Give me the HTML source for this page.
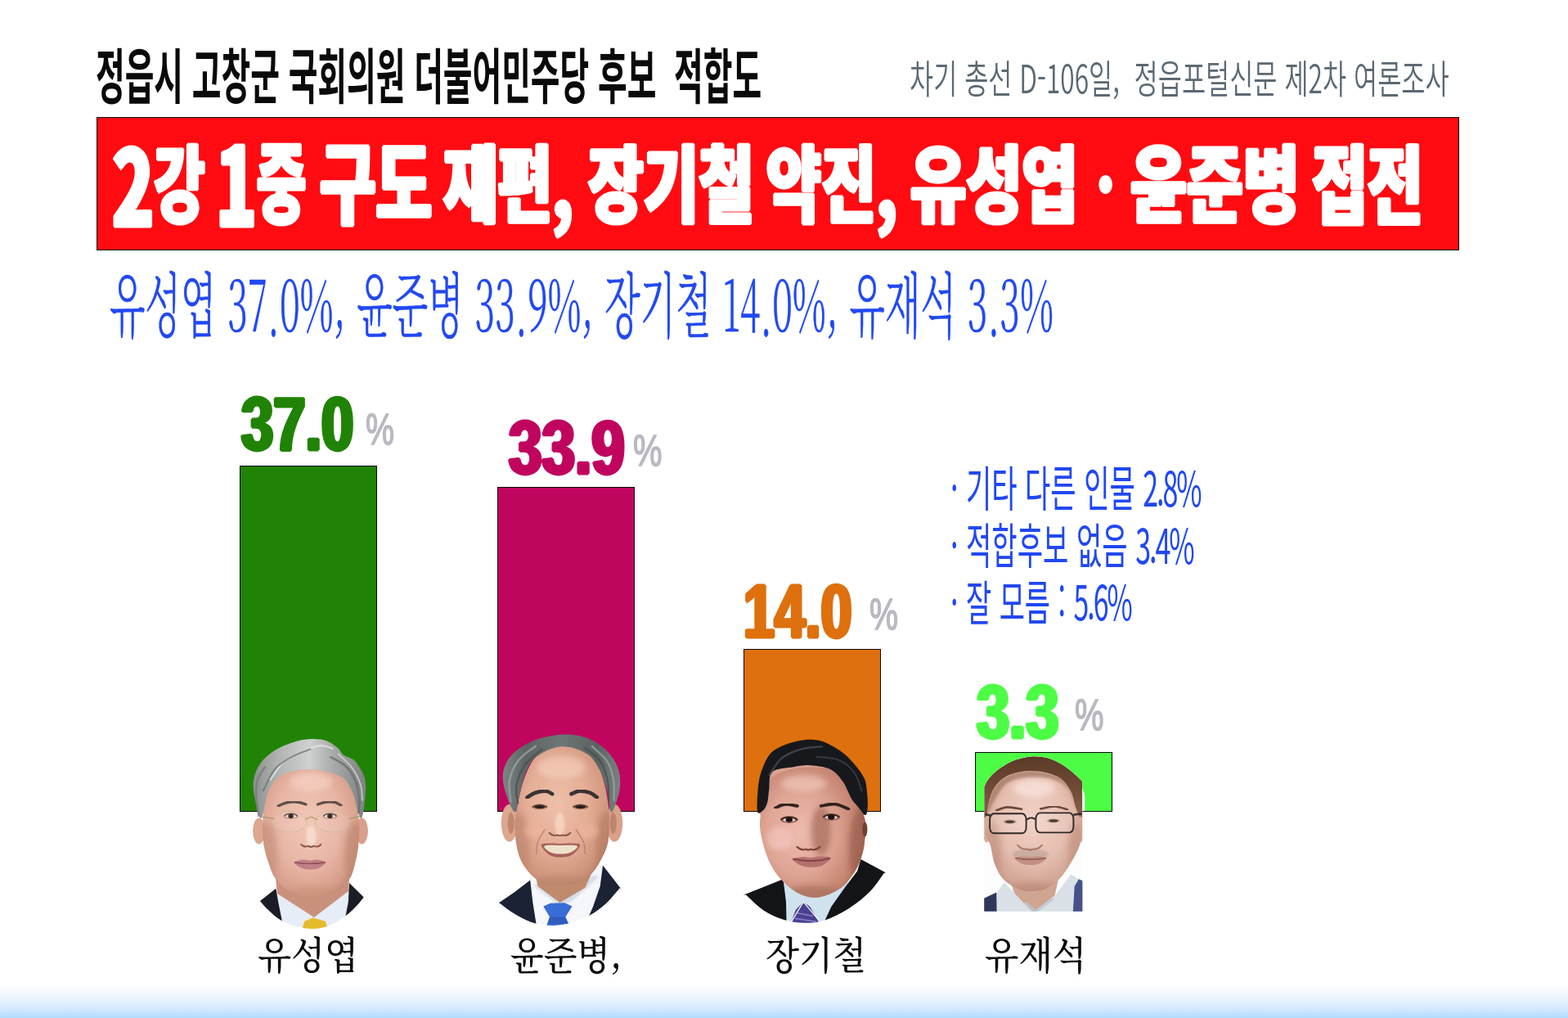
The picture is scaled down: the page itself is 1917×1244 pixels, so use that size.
<!DOCTYPE html>
<html lang="ko">
<head>
<meta charset="utf-8">
<title>정읍시 고창군 국회의원 더불어민주당 후보 적합도</title>
<style>
html,body{margin:0;padding:0;background:#fff}
body{width:1917px;height:1244px;position:relative;overflow:hidden}
#page{position:absolute;left:0;top:0;width:1917px;height:1244px;overflow:hidden;background:#fff}
#foot{position:absolute;left:0;top:1199px;width:1917px;height:45px;background:linear-gradient(to bottom,#ffffff 0%,#fbfdff 14%,#f2f8fe 34%,#e0effe 60%,#cae5fd 82%,#b2dcfd 100%)}
#band{position:absolute;left:118px;top:143px;width:1666px;height:163px;box-sizing:border-box;background:#ff0b11;border:1px solid #0a1414}
.bar{position:absolute;box-sizing:border-box;border:1px solid #0a0a0a}
.t{position:absolute;white-space:pre;line-height:1;transform-origin:0 0;margin:0}
.ph{position:absolute;overflow:visible}
.d{font-size:1.25em;line-height:0;position:relative;top:0.1em}
.pd{position:relative;top:0.13em}
.q{letter-spacing:-0.06em}
#title{left:117.45px;top:52.15px;font-size:73.16px;transform:scaleX(0.5299);color:#0a0a0a;font-family:"Noto Sans CJK KR","NanumGothic","Liberation Sans",sans-serif;font-weight:700;}
#sub{left:1112.42px;top:69.74px;font-size:47.58px;transform:scaleX(0.6661);color:#5b6973;font-family:"Noto Sans CJK KR","NanumGothic","Liberation Sans",sans-serif;font-weight:350;}
#w1{left:137.03px;top:168.46px;font-size:103.40px;transform:scaleX(0.6522);color:#fff;font-family:"Noto Sans CJK KR","NanumGothic","Liberation Sans",sans-serif;font-weight:900;-webkit-text-stroke:0.03em currentColor;text-shadow:0.01em 0 0 currentColor,-0.01em 0 0 currentColor,0.02em 0 0 currentColor,-0.02em 0 0 currentColor,0.03em 0 0 currentColor,-0.03em 0 0 currentColor;}
#w2{left:264.01px;top:163.84px;font-size:107.85px;transform:scaleX(0.6076);color:#fff;font-family:"Noto Sans CJK KR","NanumGothic","Liberation Sans",sans-serif;font-weight:900;-webkit-text-stroke:0.03em currentColor;text-shadow:0.01em 0 0 currentColor,-0.01em 0 0 currentColor,0.02em 0 0 currentColor,-0.02em 0 0 currentColor,0.03em 0 0 currentColor,-0.03em 0 0 currentColor;}
#w3{left:390.75px;top:162.62px;font-size:109.02px;transform:scaleX(0.6834);color:#fff;font-family:"Noto Sans CJK KR","NanumGothic","Liberation Sans",sans-serif;font-weight:900;-webkit-text-stroke:0.03em currentColor;text-shadow:0.01em 0 0 currentColor,-0.01em 0 0 currentColor,0.02em 0 0 currentColor,-0.02em 0 0 currentColor,0.03em 0 0 currentColor,-0.03em 0 0 currentColor;}
#w4{left:542.42px;top:168.46px;font-size:103.40px;transform:scaleX(0.6992);color:#fff;font-family:"Noto Sans CJK KR","NanumGothic","Liberation Sans",sans-serif;font-weight:900;-webkit-text-stroke:0.03em currentColor;text-shadow:0.01em 0 0 currentColor,-0.01em 0 0 currentColor,0.02em 0 0 currentColor,-0.02em 0 0 currentColor,0.03em 0 0 currentColor,-0.03em 0 0 currentColor;}
#w5{left:718.74px;top:168.46px;font-size:103.40px;transform:scaleX(0.7113);color:#fff;font-family:"Noto Sans CJK KR","NanumGothic","Liberation Sans",sans-serif;font-weight:900;-webkit-text-stroke:0.03em currentColor;text-shadow:0.01em 0 0 currentColor,-0.01em 0 0 currentColor,0.02em 0 0 currentColor,-0.02em 0 0 currentColor,0.03em 0 0 currentColor,-0.03em 0 0 currentColor;}
#w6{left:936.77px;top:168.46px;font-size:103.40px;transform:scaleX(0.7052);color:#fff;font-family:"Noto Sans CJK KR","NanumGothic","Liberation Sans",sans-serif;font-weight:900;-webkit-text-stroke:0.03em currentColor;text-shadow:0.01em 0 0 currentColor,-0.01em 0 0 currentColor,0.02em 0 0 currentColor,-0.02em 0 0 currentColor,0.03em 0 0 currentColor,-0.03em 0 0 currentColor;}
#w7{left:1112.66px;top:168.46px;font-size:103.40px;transform:scaleX(0.7180);color:#fff;font-family:"Noto Sans CJK KR","NanumGothic","Liberation Sans",sans-serif;font-weight:900;-webkit-text-stroke:0.03em currentColor;text-shadow:0.01em 0 0 currentColor,-0.01em 0 0 currentColor,0.02em 0 0 currentColor,-0.02em 0 0 currentColor,0.03em 0 0 currentColor,-0.03em 0 0 currentColor;}
#w8{left:1337.80px;top:168.00px;font-size:104.55px;transform:scaleX(0.7379);color:#fff;font-family:"Noto Sans CJK KR","NanumGothic","Liberation Sans",sans-serif;font-weight:900;}
#w9{left:1382.35px;top:168.46px;font-size:103.40px;transform:scaleX(0.7241);color:#fff;font-family:"Noto Sans CJK KR","NanumGothic","Liberation Sans",sans-serif;font-weight:900;-webkit-text-stroke:0.03em currentColor;text-shadow:0.01em 0 0 currentColor,-0.01em 0 0 currentColor,0.02em 0 0 currentColor,-0.02em 0 0 currentColor,0.03em 0 0 currentColor,-0.03em 0 0 currentColor;}
#w10{left:1603.70px;top:168.39px;font-size:104.48px;transform:scaleX(0.7056);color:#fff;font-family:"Noto Sans CJK KR","NanumGothic","Liberation Sans",sans-serif;font-weight:900;-webkit-text-stroke:0.03em currentColor;text-shadow:0.01em 0 0 currentColor,-0.01em 0 0 currentColor,0.02em 0 0 currentColor,-0.02em 0 0 currentColor,0.03em 0 0 currentColor,-0.03em 0 0 currentColor;}
#blue{left:134.10px;top:324.95px;font-size:86.36px;transform:scaleX(0.5204);color:#2148f2;font-family:"Noto Serif CJK KR","Noto Serif CJK SC","NanumMyeongjo","Liberation Serif",serif;font-weight:300;-webkit-text-stroke:0.008em currentColor;}
#leg1{left:1161.62px;top:564.07px;font-size:59.34px;transform:scaleX(0.5730);color:#2148f2;font-family:"Noto Sans CJK KR","NanumGothic","Liberation Sans",sans-serif;font-weight:400;}
#leg2{left:1161.62px;top:633.67px;font-size:59.24px;transform:scaleX(0.5750);color:#2148f2;font-family:"Noto Sans CJK KR","NanumGothic","Liberation Sans",sans-serif;font-weight:400;}
#leg3{left:1161.63px;top:704.17px;font-size:58.33px;transform:scaleX(0.5812);color:#2148f2;font-family:"Noto Sans CJK KR","NanumGothic","Liberation Sans",sans-serif;font-weight:400;}
#n1{left:315.23px;top:1140.72px;font-size:46.91px;transform:scaleX(0.9058);color:#0a0a0a;font-family:"Noto Serif CJK KR","Noto Serif CJK SC","NanumMyeongjo","Liberation Serif",serif;font-weight:500;}
#n2{left:623.74px;top:1140.68px;font-size:47.40px;transform:scaleX(0.8882);color:#0a0a0a;font-family:"Noto Serif CJK KR","Noto Serif CJK SC","NanumMyeongjo","Liberation Serif",serif;font-weight:500;}
#n3{left:935.73px;top:1140.72px;font-size:46.91px;transform:scaleX(0.9049);color:#0a0a0a;font-family:"Noto Serif CJK KR","Noto Serif CJK SC","NanumMyeongjo","Liberation Serif",serif;font-weight:500;}
#n4{left:1204.21px;top:1140.75px;font-size:46.43px;transform:scaleX(0.9231);color:#0a0a0a;font-family:"Noto Serif CJK KR","Noto Serif CJK SC","NanumMyeongjo","Liberation Serif",serif;font-weight:500;}
#v1{left:295.21px;top:472.05px;font-size:92.47px;transform:scaleX(0.7626);color:#218305;font-family:"Liberation Sans","Noto Sans CJK KR","NanumGothic",sans-serif;font-weight:700;-webkit-text-stroke:0.03em currentColor;text-shadow:0.012em 0 0 currentColor,-0.012em 0 0 currentColor,0.024em 0 0 currentColor,-0.024em 0 0 currentColor,0.035em 0 0 currentColor,-0.035em 0 0 currentColor;}
#v2{left:622.23px;top:501.05px;font-size:92.47px;transform:scaleX(0.7875);color:#c0055f;font-family:"Liberation Sans","Noto Sans CJK KR","NanumGothic",sans-serif;font-weight:700;-webkit-text-stroke:0.03em currentColor;text-shadow:0.012em 0 0 currentColor,-0.012em 0 0 currentColor,0.024em 0 0 currentColor,-0.024em 0 0 currentColor,0.035em 0 0 currentColor,-0.035em 0 0 currentColor;}
#v3{left:909.46px;top:701.65px;font-size:91.78px;transform:scaleX(0.7416);color:#de700e;font-family:"Liberation Sans","Noto Sans CJK KR","NanumGothic",sans-serif;font-weight:700;-webkit-text-stroke:0.03em currentColor;text-shadow:0.012em 0 0 currentColor,-0.012em 0 0 currentColor,0.024em 0 0 currentColor,-0.024em 0 0 currentColor,0.035em 0 0 currentColor,-0.035em 0 0 currentColor;}
#v4{left:1193.72px;top:824.65px;font-size:91.78px;transform:scaleX(0.7860);color:#4dfd45;font-family:"Liberation Sans","Noto Sans CJK KR","NanumGothic",sans-serif;font-weight:700;-webkit-text-stroke:0.03em currentColor;text-shadow:0.012em 0 0 currentColor,-0.012em 0 0 currentColor,0.024em 0 0 currentColor,-0.024em 0 0 currentColor,0.035em 0 0 currentColor,-0.035em 0 0 currentColor;}
#p1{left:446.71px;top:497.52px;font-size:53.42px;transform:scaleX(0.7377);color:#b9b9c1;font-family:"Liberation Sans","Noto Sans CJK KR","NanumGothic",sans-serif;font-weight:400;-webkit-text-stroke:0.03em currentColor;}
#p2{left:773.70px;top:523.52px;font-size:53.42px;transform:scaleX(0.7487);color:#b9b9c1;font-family:"Liberation Sans","Noto Sans CJK KR","NanumGothic",sans-serif;font-weight:400;-webkit-text-stroke:0.03em currentColor;}
#p3{left:1062.71px;top:723.52px;font-size:53.42px;transform:scaleX(0.7377);color:#b9b9c1;font-family:"Liberation Sans","Noto Sans CJK KR","NanumGothic",sans-serif;font-weight:400;-webkit-text-stroke:0.03em currentColor;}
#p4{left:1313.70px;top:846.52px;font-size:53.42px;transform:scaleX(0.7487);color:#b9b9c1;font-family:"Liberation Sans","Noto Sans CJK KR","NanumGothic",sans-serif;font-weight:400;-webkit-text-stroke:0.03em currentColor;}
#b1{left:293px;top:569px;width:168px;height:423px;background:#218305}
#b2{left:608px;top:595px;width:168px;height:397px;background:#c0055f}
#b3{left:909px;top:793px;width:168px;height:199px;background:#de700e}
#b4{left:1192px;top:919px;width:168px;height:73px;background:#4dfd45}
</style>
</head>
<body>
<div id="page">
<div id="foot"></div>
<div class="t" id="title">정읍시 고창군 국회의원 더불어민주당 후보  적합도</div>
<div class="t" id="sub">차기 총선 D-106일,  정읍포털신문 제2차 여론조사</div>
<div id="band"></div>
<div class="t" id="w1"><span class="d">2</span>강</div>
<div class="t" id="w2"><span class="d">1</span>중</div>
<div class="t" id="w3">구도</div>
<div class="t" id="w4">재편,</div>
<div class="t" id="w5">장기철</div>
<div class="t" id="w6">약진,</div>
<div class="t" id="w7">유성엽</div>
<div class="t" id="w8">·</div>
<div class="t" id="w9">윤준병</div>
<div class="t" id="w10">접전</div>
<div class="t" id="blue">유성엽 37<span class="pd">.</span>0%, 윤준병 33<span class="pd">.</span>9%, 장기철 14<span class="pd">.</span>0%, 유재석 3<span class="pd">.</span>3%</div>
<div class="bar" id="b1"></div>
<div class="bar" id="b2"></div>
<div class="bar" id="b3"></div>
<div class="bar" id="b4"></div>
<svg id="photos" class="ph" width="1917" height="1244" viewBox="0 0 1917 1244" style="left:0;top:0">
<defs>
<filter id="fb1" x="-10%" y="-10%" width="120%" height="120%"><feGaussianBlur stdDeviation="0.7"/></filter>
<filter id="fb2" x="-20%" y="-20%" width="140%" height="140%"><feGaussianBlur stdDeviation="1.6"/></filter>
<filter id="fb4" x="-30%" y="-30%" width="160%" height="160%"><feGaussianBlur stdDeviation="3.5"/></filter>
<filter id="fb8" x="-40%" y="-40%" width="180%" height="180%"><feGaussianBlur stdDeviation="7"/></filter>

<radialGradient id="sk1" cx="0.47" cy="0.45" r="0.62"><stop offset="0" stop-color="#f2c8b8"/><stop offset="0.55" stop-color="#e8b5a4"/><stop offset="0.85" stop-color="#d79f8c"/><stop offset="1" stop-color="#bf8672"/></radialGradient>
<linearGradient id="hr1" x1="0" y1="0" x2="1" y2="0"><stop offset="0" stop-color="#8c908f"/><stop offset="0.25" stop-color="#b4b7b6"/><stop offset="0.5" stop-color="#cfd1d0"/><stop offset="0.7" stop-color="#a9acab"/><stop offset="1" stop-color="#7d8180"/></linearGradient>
<clipPath id="cf1"><path d="M321.5 998.0 C322.3 987.1 323.6 972.4 327.3 963.3 C330.9 954.1 337.1 947.9 343.6 943.0 C350.2 938.2 358.1 935.5 366.8 934.0 C375.5 932.5 387.0 932.5 395.7 934.0 C404.4 935.5 413.1 938.2 418.9 943.0 C424.6 947.9 427.2 954.1 430.4 963.3 C433.7 972.4 437.2 987.1 438.5 998.0 C439.9 1008.9 439.2 1019.5 438.5 1028.9 C437.8 1038.2 436.3 1046.2 434.3 1053.9 C432.3 1061.6 431.1 1069.0 426.6 1075.1 C422.1 1081.3 414.7 1087.6 407.3 1091.0 C399.9 1094.4 390.6 1095.6 382.2 1095.6 C373.9 1095.6 364.5 1094.4 357.1 1091.0 C349.8 1087.6 342.7 1081.3 337.9 1075.1 C333.0 1069.0 330.9 1061.6 328.2 1053.9 C325.6 1046.2 323.2 1038.2 322.0 1028.9 C320.9 1019.5 320.6 1008.9 321.5 998.0 Z"/></clipPath>
<clipPath id="cp1"><path d="M290 880 L290 1101.2 L318.2 1101.2 C319.8 1103.0 323.9 1108.2 328.0 1112.0 C332.1 1115.8 336.9 1120.6 342.6 1123.9 C348.3 1127.2 355.1 1130.2 362.0 1132.0 C368.9 1133.8 376.8 1135.3 384.0 1135.0 C391.2 1134.7 398.4 1132.8 405.0 1130.0 C411.6 1127.2 418.1 1122.3 423.3 1118.5 C428.5 1114.7 432.4 1110.8 436.0 1107.0 C439.6 1103.2 443.5 1097.8 445.0 1095.9 L474 1095.9 L474 880 Z"/></clipPath>
<radialGradient id="sk2" cx="0.45" cy="0.42" r="0.65"><stop offset="0" stop-color="#efc0aa"/><stop offset="0.5" stop-color="#e4ad96"/><stop offset="0.85" stop-color="#cf957c"/><stop offset="1" stop-color="#b57c66"/></radialGradient>
<linearGradient id="hr2" x1="0" y1="0" x2="1" y2="0"><stop offset="0" stop-color="#7c8583"/><stop offset="0.2" stop-color="#5c6563"/><stop offset="0.5" stop-color="#6e7775"/><stop offset="0.8" stop-color="#596260"/><stop offset="1" stop-color="#7a8381"/></linearGradient>
<clipPath id="cf2"><path d="M631.5 990.3 C632.6 983.9 634.4 974.5 636.3 967.1 C638.2 959.8 640.1 952.7 643.0 945.9 C645.9 939.2 649.3 931.6 653.6 926.6 C658.0 921.7 663.6 918.5 669.1 916.0 C674.5 913.5 680.3 912.0 686.4 911.6 C692.5 911.2 699.6 911.6 705.7 913.5 C711.8 915.5 718.6 919.1 723.1 923.2 C727.6 927.3 730.1 932.5 732.7 938.2 C735.4 943.9 737.2 951.1 738.9 957.5 C740.6 963.9 741.8 970.0 742.7 976.8 C743.7 983.5 744.6 989.3 744.7 998.0 C744.8 1006.7 744.9 1020.2 743.3 1028.9 C741.7 1037.5 738.3 1043.6 735.0 1050.1 C731.7 1056.5 728.3 1062.7 723.5 1067.4 C718.6 1072.2 712.2 1076.1 705.7 1078.6 C699.2 1081.1 691.6 1082.5 684.5 1082.5 C677.4 1082.5 669.4 1081.1 663.3 1078.6 C657.2 1076.1 652.4 1072.2 647.9 1067.4 C643.4 1062.7 639.1 1056.5 636.3 1050.1 C633.5 1043.6 632.0 1036.3 630.9 1028.9 C629.8 1021.5 629.4 1012.1 629.5 1005.7 C629.6 999.3 630.3 996.7 631.5 990.3 Z"/></clipPath>
<clipPath id="cp2"><path d="M580 880 L580 1103.2 L610.2 1103.2 C613.2 1105.3 621.7 1112.2 628.0 1116.0 C634.3 1119.8 641.9 1124.0 647.9 1126.3 C653.9 1128.6 658.7 1129.3 664.0 1130.0 C669.3 1130.7 673.8 1131.2 679.8 1130.7 C685.8 1130.2 693.0 1129.1 700.0 1127.0 C707.0 1124.9 714.7 1122.1 721.5 1118.3 C728.3 1114.5 735.0 1109.5 741.0 1104.0 C747.0 1098.5 754.7 1088.6 757.4 1085.5 L790 1085.5 L790 880 Z"/></clipPath>
<radialGradient id="sk3" cx="0.38" cy="0.5" r="0.7"><stop offset="0" stop-color="#eebcae"/><stop offset="0.45" stop-color="#dfa595"/><stop offset="0.8" stop-color="#c4836f"/><stop offset="1" stop-color="#9c6250"/></radialGradient>
<clipPath id="cf3"><path d="M930.9 990.3 C931.6 983.9 931.9 977.0 933.4 971.0 C934.9 965.0 936.8 958.5 940.1 954.0 C943.5 949.6 947.5 947.0 953.6 944.4 C959.8 941.8 968.1 939.2 976.8 938.2 C985.5 937.2 997.7 937.5 1005.7 938.2 C1013.8 938.9 1019.2 939.9 1025.0 942.5 C1030.9 945.0 1036.6 948.9 1040.8 953.6 C1045.1 958.4 1048.2 964.9 1050.5 971.0 C1052.7 977.1 1053.0 984.5 1054.3 990.3 C1055.6 996.1 1057.7 999.9 1058.2 1005.7 C1058.7 1011.5 1057.9 1019.2 1057.4 1025.0 C1056.9 1030.8 1056.6 1034.6 1055.1 1040.4 C1053.5 1046.2 1051.8 1053.0 1048.1 1059.7 C1044.5 1066.5 1038.9 1075.4 1033.1 1080.9 C1027.3 1086.5 1019.9 1090.3 1013.4 1092.9 C1006.9 1095.5 1000.6 1097.1 994.1 1096.8 C987.7 1096.4 981.3 1094.5 974.9 1091.0 C968.4 1087.4 961.0 1081.3 955.6 1075.5 C950.1 1069.7 945.8 1063.3 942.1 1056.2 C938.4 1049.2 935.6 1040.9 933.4 1033.1 C931.2 1025.3 929.4 1016.7 929.0 1009.6 C928.5 1002.4 930.1 996.7 930.9 990.3 Z"/></clipPath>
<clipPath id="cp3"><path d="M880 880 L880 1093.5 L911.9 1093.5 C915.7 1096.8 926.8 1108.2 934.7 1113.3 C942.6 1118.4 951.2 1121.8 959.5 1124.2 C967.8 1126.6 976.0 1127.7 984.2 1127.7 C992.5 1127.7 999.9 1127.2 1009.0 1124.2 C1018.1 1121.2 1029.7 1115.2 1038.8 1109.4 C1047.9 1103.6 1056.5 1096.7 1063.5 1089.6 C1070.5 1082.5 1078.0 1070.6 1080.9 1066.8 L1100 1066.8 L1100 880 Z"/></clipPath>
<radialGradient id="sk4" cx="0.5" cy="0.4" r="0.65"><stop offset="0" stop-color="#f2d2c6"/><stop offset="0.55" stop-color="#e5beb0"/><stop offset="0.85" stop-color="#d3a594"/><stop offset="1" stop-color="#b98a78"/></radialGradient>
<linearGradient id="hr4" x1="0" y1="0" x2="0" y2="1"><stop offset="0" stop-color="#5a3a28"/><stop offset="0.5" stop-color="#6e4a34"/><stop offset="1" stop-color="#8a6248"/></linearGradient>
<clipPath id="cf4"><path d="M1206.6 994.1 C1207.8 986.4 1209.1 977.4 1211.5 971.0 C1213.9 964.6 1217.1 959.7 1221.1 955.6 C1225.1 951.5 1229.6 948.6 1235.6 946.3 C1241.5 944.1 1249.7 942.5 1256.8 942.1 C1263.9 941.7 1271.3 942.4 1278.0 944.0 C1284.8 945.6 1292.1 947.9 1297.3 951.7 C1302.5 955.6 1306.3 961.4 1309.2 967.1 C1312.2 972.9 1313.3 981.3 1315.0 986.4 C1316.7 991.6 1318.2 993.5 1319.5 998.0 C1320.7 1002.5 1322.3 1007.6 1322.4 1013.4 C1322.5 1019.2 1322.2 1025.9 1320.0 1032.7 C1317.9 1039.5 1313.3 1047.5 1309.2 1054.3 C1305.2 1061.1 1300.9 1068.3 1295.7 1073.6 C1290.6 1078.9 1283.9 1083.4 1278.4 1085.9 C1272.9 1088.5 1267.8 1088.8 1262.6 1089.0 C1257.4 1089.2 1252.9 1089.4 1247.1 1087.1 C1241.4 1084.9 1233.0 1080.7 1227.9 1075.5 C1222.7 1070.4 1219.1 1063.3 1216.3 1056.2 C1213.5 1049.2 1212.8 1039.6 1210.9 1033.1 C1209.0 1026.6 1205.4 1023.8 1204.7 1017.3 C1204.0 1010.8 1205.5 1001.9 1206.6 994.1 Z"/></clipPath>
<clipPath id="cp4"><path d="M1203.2 961.7 C1204.1 960.1 1205.7 955.3 1208.6 951.7 C1211.4 948.2 1215.6 944.0 1220.1 940.5 C1224.6 937.1 1230.4 933.3 1235.6 930.9 C1240.7 928.4 1245.9 927.0 1251.0 925.9 C1256.1 924.8 1261.3 924.2 1266.4 924.3 C1271.6 924.5 1276.7 925.1 1281.9 926.6 C1287.0 928.2 1292.5 930.8 1297.3 933.6 C1302.1 936.4 1306.9 940.1 1310.8 943.2 C1314.6 946.3 1318.3 950.1 1320.4 952.1 C1322.5 954.1 1322.8 954.7 1323.3 955.2 L1323.4 1113.8 L1203.2 1113.8 Z"/></clipPath></defs>
<g id="ph1" clip-path="url(#cp1)">
<path d="M337.9 1082.9 L428.5 1082.9 L430.4 1133.0 L337.9 1133.0 Z" fill="#e6edf6"/>
<path d="M308.9 1107.9 L318.6 1100.6 L337.3 1085.8 L340.2 1102.2 L344.6 1124.3 L347.5 1134.9 L308.9 1134.9 Z" fill="#1b1d26"/>
<path d="M453.6 1104.1 L445.1 1096.8 L427.0 1079.0 L425.8 1102.2 L422.3 1120.5 L418.9 1134.9 L453.6 1134.9 Z" fill="#1b1d26"/>
<path d="M372.2 1125.7 L382.2 1121.4 L398.0 1125.7 L400.5 1134.9 L369.7 1134.9 Z" fill="#e4bb2c"/>
<ellipse cx="316.6" cy="1015.4" rx="7.5" ry="16" fill="#dba78f"/>
<ellipse cx="442.4" cy="1015.4" rx="7.5" ry="16" fill="#d8a088"/>
<path d="M337 1073 L427 1073 L426 1089 L384 1121 L339 1092 Z" fill="#c9917c"/>
<path d="M321.5 998.0 C322.3 987.1 323.6 972.4 327.3 963.3 C330.9 954.1 337.1 947.9 343.6 943.0 C350.2 938.2 358.1 935.5 366.8 934.0 C375.5 932.5 387.0 932.5 395.7 934.0 C404.4 935.5 413.1 938.2 418.9 943.0 C424.6 947.9 427.2 954.1 430.4 963.3 C433.7 972.4 437.2 987.1 438.5 998.0 C439.9 1008.9 439.2 1019.5 438.5 1028.9 C437.8 1038.2 436.3 1046.2 434.3 1053.9 C432.3 1061.6 431.1 1069.0 426.6 1075.1 C422.1 1081.3 414.7 1087.6 407.3 1091.0 C399.9 1094.4 390.6 1095.6 382.2 1095.6 C373.9 1095.6 364.5 1094.4 357.1 1091.0 C349.8 1087.6 342.7 1081.3 337.9 1075.1 C333.0 1069.0 330.9 1061.6 328.2 1053.9 C325.6 1046.2 323.2 1038.2 322.0 1028.9 C320.9 1019.5 320.6 1008.9 321.5 998.0 Z" fill="url(#sk1)"/>
<g clip-path="url(#cf1)">
<ellipse cx="325.3" cy="1044.3" rx="14" ry="40" fill="#c08a74" opacity="0.55" filter="url(#fb4)"/>
<ellipse cx="435.3" cy="1044.3" rx="14" ry="40" fill="#b9826c" opacity="0.6" filter="url(#fb4)"/>
<ellipse cx="382.2" cy="1092.5" rx="30" ry="9" fill="#c89078" opacity="0.6" filter="url(#fb4)"/>
<ellipse cx="380.3" cy="955.6" rx="26" ry="12" fill="#f8d6c8" opacity="0.6" filter="url(#fb4)"/>
</g>
<path d="M319.5 999.9 C316.8 1001.5 313.4 984.5 311.8 976.8 C310.2 969.1 308.8 961.0 309.9 953.6 C311.0 946.3 314.2 938.5 318.6 932.4 C322.9 926.3 329.5 921.2 335.9 917.0 C342.4 912.8 349.8 909.7 357.1 907.4 C364.5 905.0 373.2 903.4 380.3 903.1 C387.4 902.8 394.1 903.6 399.6 905.4 C405.0 907.3 409.7 911.3 413.1 914.1 C416.5 916.9 416.6 920.0 419.8 922.4 C423.0 924.8 428.7 925.3 432.4 928.6 C436.1 931.9 439.6 937.6 442.0 942.1 C444.4 946.6 446.1 949.8 446.8 955.6 C447.5 961.4 447.2 969.4 446.2 976.8 C445.3 984.2 443.7 1001.5 441.0 999.9 C438.4 998.3 434.8 975.8 430.4 967.1 C426.1 958.5 424.0 952.4 415.0 947.9 C406.0 943.4 388.3 940.1 376.4 940.1 C364.5 940.1 351.7 943.4 343.6 947.9 C335.6 952.4 332.2 958.5 328.2 967.1 C324.2 975.8 322.3 998.3 319.5 999.9 Z" fill="url(#hr1)"/>
<path d="M330.1 953.6 C332.7 950.1 339.1 938.2 345.6 932.4 C352.0 926.6 361.0 922.5 368.7 918.9 C376.4 915.4 385.4 911.9 391.9 911.2 C398.3 910.6 404.7 914.4 407.3 915.1" fill="none" stroke="#e3e5e4" stroke-width="2.2" opacity="0.8" filter="url(#fb1)"/>
<path d="M321.5 967.1 C323.9 962.6 330.0 947.2 335.9 940.1 C341.9 933.1 349.8 928.9 357.1 924.7 C364.5 920.5 376.4 916.7 380.3 915.1" fill="none" stroke="#6f7372" stroke-width="2" opacity="0.8" filter="url(#fb1)"/>
<path d="M403.4 924.7 C406.6 926.6 417.6 931.5 422.7 936.3 C427.9 941.1 431.6 946.9 434.3 953.6 C437.0 960.4 438.4 970.0 439.1 976.8 C439.8 983.5 438.6 991.3 438.5 994.1" fill="none" stroke="#6a6e6d" stroke-width="2.5" opacity="0.8" filter="url(#fb1)"/>
<path d="M413.1 920.9 C416.0 923.8 425.8 931.8 430.4 938.2 C435.1 944.6 439.0 952.7 441.0 959.4 C443.1 966.2 442.6 975.5 443.0 978.7" fill="none" stroke="#d9dbda" stroke-width="1.6" opacity="0.8" filter="url(#fb1)"/>
<path d="M316.6 998.0 C316.1 994.1 313.5 982.3 313.2 974.9 C312.9 967.5 312.9 960.1 314.7 953.6 C316.6 947.2 322.8 939.2 324.4 936.3" fill="none" stroke="#777b7a" stroke-width="2.5" opacity="0.8" filter="url(#fb1)"/>
<path d="M340.2 984.9 C342.0 984.2 347.2 981.4 351.4 980.6 C355.5 979.9 361.1 979.9 364.9 980.3 C368.7 980.6 372.6 982.5 374.1 983.0" fill="none" stroke="#5e4f49" stroke-width="3.2" stroke-linecap="round" filter="url(#fb1)"/>
<path d="M388.4 983.0 C389.9 982.5 394.0 980.6 397.6 980.3 C401.3 979.9 406.9 979.9 410.2 980.6 C413.5 981.4 416.1 983.9 417.3 984.5" fill="none" stroke="#5e4f49" stroke-width="3.2" stroke-linecap="round" filter="url(#fb1)"/>
<ellipse cx="355.6" cy="997.2" rx="9" ry="3.6" fill="#b58573" filter="url(#fb1)"/>
<ellipse cx="355.6" cy="997.2" rx="6.5" ry="2.6" fill="#f1e6e0"/>
<ellipse cx="355.6" cy="997.2" rx="3.3" ry="2.8" fill="#2a1c18"/>
<path d="M347.6 996.7 Q355.6 992.2 363.6 996.7" fill="none" stroke="#4a342e" stroke-width="1.3"/>
<ellipse cx="403.4" cy="997.2" rx="9" ry="3.6" fill="#b58573" filter="url(#fb1)"/>
<ellipse cx="403.4" cy="997.2" rx="6.5" ry="2.6" fill="#f1e6e0"/>
<ellipse cx="403.4" cy="997.2" rx="3.3" ry="2.8" fill="#2a1c18"/>
<path d="M395.4 996.7 Q403.4 992.2 411.4 996.7" fill="none" stroke="#4a342e" stroke-width="1.3"/>
<ellipse cx="354.3" cy="1004.2" rx="20.5" ry="12.5" fill="#fff" fill-opacity="0.08" stroke="#cdbf9c" stroke-width="0.9"/>
<ellipse cx="406.3" cy="1004.2" rx="20.5" ry="12.5" fill="#fff" fill-opacity="0.08" stroke="#cdbf9c" stroke-width="0.9"/>
<path d="M372.6 1001.9 C373.9 1001.3 377.7 998.4 380.3 998.4 C382.9 998.4 386.7 1001.3 388.0 1001.9" fill="none" stroke="#b7a06a" stroke-width="1.3"/>
<path d="M319.5 998.0 L335.0 1000.3" fill="none" stroke="#a8966a" stroke-width="1.2"/>
<path d="M426.6 1000.3 L441.0 997.6" fill="none" stroke="#a8966a" stroke-width="1.2"/>
<ellipse cx="380.3" cy="1022.9" rx="6" ry="14" fill="#fbe3d6" opacity="0.7" filter="url(#fb2)"/>
<path d="M368.3 1031.9 Q371.3 1035.9 377.3 1033.9 Q380.3 1035.9 383.3 1033.9 Q389.3 1035.9 392.3 1031.9" fill="none" stroke="#8a5646" stroke-width="2" stroke-linecap="round" filter="url(#fb1)"/>
<path d="M360.0 1053.9 C360.4 1052.2 367.4 1050.8 370.6 1050.5 C373.9 1050.1 376.4 1051.6 379.3 1051.6 C382.2 1051.6 384.9 1050.1 388.0 1050.5 C391.1 1050.8 397.7 1052.2 398.0 1053.9 C398.4 1055.6 393.1 1059.2 389.9 1060.7 C386.8 1062.1 382.9 1062.6 379.3 1062.6 C375.8 1062.6 371.9 1062.1 368.7 1060.7 C365.5 1059.2 359.7 1055.6 360.0 1053.9 Z" fill="#c07f86"/>
<path d="M360.0 1053.9 C361.8 1054.1 367.4 1054.8 370.6 1055.1 C373.9 1055.3 376.4 1055.5 379.3 1055.5 C382.2 1055.5 384.9 1055.3 388.0 1055.1 C391.1 1054.8 396.4 1054.1 398.0 1053.9" fill="none" stroke="#8d4e58" stroke-width="1.6" filter="url(#fb1)"/>
</g>
<g id="ph2" clip-path="url(#cp2)">
<path d="M647.9 1063.6 L740.4 1055.9 L740.4 1134.9 L647.9 1134.9 Z" fill="#f6f7fb"/>
<path d="M653.6 1082.9 L682.6 1106.0 L698.0 1102.2 L732.7 1071.3 L725.0 1069.4 L690.3 1094.4 L659.4 1075.1 Z" fill="#d5dbe8" filter="url(#fb2)"/>
<path d="M601.6 1109.9 L610.3 1103.1 L628.6 1090.6 L648.2 1075.5 L651.3 1102.2 L656.5 1134.9 L601.6 1134.9 Z" fill="#1a2234"/>
<path d="M767.4 1094.4 L758.2 1084.8 L737.0 1057.4 L733.7 1082.9 L725.0 1107.9 L713.4 1134.9 L767.4 1134.9 Z" fill="#1a2234"/>
<path d="M664.3 1107.6 L672.9 1103.7 L690.3 1103.3 L699.5 1107.6 L691.3 1120.5 L698.0 1134.9 L667.1 1134.9 L672.0 1120.5 Z" fill="#3a6cd6"/>
<path d="M672.0 1120.5 L691.3 1120.5 L695.1 1129.2 L669.1 1129.2 Z" fill="#2a52b0" opacity="0.6" filter="url(#fb1)"/>
<ellipse cx="622.8" cy="1005.7" rx="10" ry="23" fill="#dba78f"/>
<ellipse cx="751.2" cy="1005.7" rx="10" ry="23" fill="#d8a088"/>
<ellipse cx="624.7" cy="1005.7" rx="4" ry="13" fill="#b57a62" opacity="0.7" filter="url(#fb1)"/>
<ellipse cx="749.7" cy="1005.7" rx="4" ry="13" fill="#b57a62" opacity="0.7" filter="url(#fb1)"/>
<path d="M653.6 1063.6 L725.0 1063.6 L715.4 1084.8 L684.5 1103.1 L657.5 1082.9 Z" fill="#c08a6e"/>
<path d="M631.5 990.3 C632.6 983.9 634.4 974.5 636.3 967.1 C638.2 959.8 640.1 952.7 643.0 945.9 C645.9 939.2 649.3 931.6 653.6 926.6 C658.0 921.7 663.6 918.5 669.1 916.0 C674.5 913.5 680.3 912.0 686.4 911.6 C692.5 911.2 699.6 911.6 705.7 913.5 C711.8 915.5 718.6 919.1 723.1 923.2 C727.6 927.3 730.1 932.5 732.7 938.2 C735.4 943.9 737.2 951.1 738.9 957.5 C740.6 963.9 741.8 970.0 742.7 976.8 C743.7 983.5 744.6 989.3 744.7 998.0 C744.8 1006.7 744.9 1020.2 743.3 1028.9 C741.7 1037.5 738.3 1043.6 735.0 1050.1 C731.7 1056.5 728.3 1062.7 723.5 1067.4 C718.6 1072.2 712.2 1076.1 705.7 1078.6 C699.2 1081.1 691.6 1082.5 684.5 1082.5 C677.4 1082.5 669.4 1081.1 663.3 1078.6 C657.2 1076.1 652.4 1072.2 647.9 1067.4 C643.4 1062.7 639.1 1056.5 636.3 1050.1 C633.5 1043.6 632.0 1036.3 630.9 1028.9 C629.8 1021.5 629.4 1012.1 629.5 1005.7 C629.6 999.3 630.3 996.7 631.5 990.3 Z" fill="url(#sk2)"/>
<g clip-path="url(#cf2)">
<ellipse cx="634.0" cy="1036.6" rx="13" ry="45" fill="#b9826a" opacity="0.55" filter="url(#fb4)"/>
<ellipse cx="741.4" cy="1036.6" rx="13" ry="45" fill="#b27a62" opacity="0.6" filter="url(#fb4)"/>
<ellipse cx="685.5" cy="1080.0" rx="34" ry="10" fill="#b8846c" opacity="0.7" filter="url(#fb4)"/>
<ellipse cx="686.4" cy="938.2" rx="30" ry="14" fill="#f6d0bf" opacity="0.6" filter="url(#fb4)"/>
<ellipse cx="653.6" cy="1015.4" rx="12" ry="9" fill="#efb3a0" opacity="0.7" filter="url(#fb4)"/>
<ellipse cx="719.2" cy="1015.4" rx="12" ry="9" fill="#efb3a0" opacity="0.7" filter="url(#fb4)"/>
</g>
<path d="M629.5 992.2 C626.8 992.2 621.4 978.4 618.9 971.0 C616.5 963.6 614.4 954.9 614.7 947.9 C615.0 940.8 617.6 934.0 620.9 928.6 C624.1 923.1 628.9 919.1 634.4 915.1 C639.8 911.1 646.6 907.2 653.6 904.5 C660.7 901.7 669.4 899.8 676.8 898.7 C684.2 897.6 691.3 897.2 698.0 897.7 C704.8 898.2 711.2 899.3 717.3 901.6 C723.4 903.8 729.5 907.4 734.6 911.2 C739.8 915.1 744.6 919.9 748.1 924.7 C751.7 929.5 754.2 935.0 755.9 940.1 C757.5 945.3 758.2 950.1 758.2 955.6 C758.2 961.0 757.7 966.8 755.9 972.9 C754.0 979.0 749.4 993.2 747.2 992.2 C744.9 991.3 744.8 975.8 742.4 967.1 C740.0 958.5 736.9 947.9 732.7 940.1 C728.5 932.4 725.0 925.5 717.3 920.9 C709.6 916.2 696.7 911.5 686.4 912.2 C676.1 912.8 663.0 919.1 655.6 924.7 C648.2 930.3 645.4 938.2 642.1 945.9 C638.7 953.6 637.4 963.3 635.3 971.0 C633.2 978.7 632.3 992.2 629.5 992.2 Z" fill="url(#hr2)"/>
<path d="M624.7 980.6 C624.4 976.1 621.2 962.3 622.8 953.6 C624.4 945.0 628.9 935.6 634.4 928.6 C639.8 921.5 652.0 914.1 655.6 911.2" fill="none" stroke="#9aa3a1" stroke-width="2.4" opacity="0.8" filter="url(#fb1)"/>
<path d="M723.1 911.2 C726.3 914.4 737.9 923.4 742.4 930.5 C746.9 937.6 748.7 945.6 750.1 953.6 C751.4 961.7 750.4 974.5 750.5 978.7" fill="none" stroke="#98a19f" stroke-width="2.4" opacity="0.8" filter="url(#fb1)"/>
<path d="M633.4 982.6 C633.1 978.7 630.0 967.5 631.5 959.4 C632.9 951.4 636.8 941.8 642.1 934.4 C647.4 927.0 659.8 918.3 663.3 915.1" fill="none" stroke="#444c4a" stroke-width="2.2" opacity="0.7" filter="url(#fb1)"/>
<path d="M713.4 913.1 C716.6 915.7 727.9 922.1 732.7 928.6 C737.5 935.0 740.4 943.4 742.4 951.7 C744.3 960.1 744.0 974.2 744.3 978.7" fill="none" stroke="#444c4a" stroke-width="2.2" opacity="0.7" filter="url(#fb1)"/>
<path d="M644.4 974.5 C646.1 973.5 650.8 970.0 654.6 968.7 C658.4 967.4 663.7 966.5 667.1 966.8 C670.6 967.0 673.9 969.7 675.2 970.2" fill="none" stroke="#3a3330" stroke-width="4.6" stroke-linecap="round" filter="url(#fb1)"/>
<path d="M698.4 970.2 C700.0 969.7 704.2 967.0 708.0 966.8 C711.8 966.5 717.5 967.4 721.1 968.7 C724.8 970.0 728.5 973.5 730.0 974.5" fill="none" stroke="#3a3330" stroke-width="4.6" stroke-linecap="round" filter="url(#fb1)"/>
<ellipse cx="659.8" cy="985.9" rx="9.5" ry="3.4" fill="#b07d69" filter="url(#fb1)"/>
<ellipse cx="659.8" cy="985.9" rx="6.5" ry="2.1" fill="#2c1e1a"/>
<path d="M650.8 986.4 Q659.8 980.9 668.8 986.4" fill="none" stroke="#4a342e" stroke-width="1.4"/>
<ellipse cx="709.6" cy="985.9" rx="9.5" ry="3.4" fill="#b07d69" filter="url(#fb1)"/>
<ellipse cx="709.6" cy="985.9" rx="6.5" ry="2.1" fill="#2c1e1a"/>
<path d="M700.6 986.4 Q709.6 980.9 718.6 986.4" fill="none" stroke="#4a342e" stroke-width="1.4"/>
<ellipse cx="684.5" cy="1007.4" rx="6" ry="14" fill="#f9dccc" opacity="0.7" filter="url(#fb2)"/>
<path d="M671.5 1017.4 Q675.5 1022.4 681.5 1020.4 Q684.5 1022.4 687.5 1020.4 Q693.5 1022.4 697.5 1017.4" fill="none" stroke="#8a5646" stroke-width="2" stroke-linecap="round" filter="url(#fb1)"/>
<path d="M666.2 1013.4 C664.7 1016.0 659.3 1023.7 657.5 1028.9 C655.7 1034.0 655.9 1041.7 655.6 1044.3" fill="none" stroke="#b98068" stroke-width="1.6" opacity="0.8" filter="url(#fb1)"/>
<path d="M703.8 1013.4 C705.4 1016.0 711.5 1023.7 713.4 1028.9 C715.4 1034.0 715.0 1041.7 715.4 1044.3" fill="none" stroke="#b98068" stroke-width="1.6" opacity="0.8" filter="url(#fb1)"/>
<path d="M661.7 1032.3 C662.4 1030.0 670.9 1030.6 674.9 1030.4 C678.8 1030.2 681.9 1031.2 685.5 1031.2 C689.0 1031.2 692.1 1030.2 696.1 1030.4 C700.0 1030.6 708.5 1030.0 709.2 1032.3 C709.8 1034.6 703.9 1041.7 699.9 1044.3 C696.0 1046.9 690.3 1047.8 685.5 1047.8 C680.6 1047.8 675.0 1046.9 671.0 1044.3 C667.0 1041.7 661.1 1034.6 661.7 1032.3 Z" fill="#a9605a"/>
<path d="M665.6 1033.7 C667.7 1032.3 678.8 1033.1 685.5 1033.1 C692.2 1033.1 703.6 1032.3 705.7 1033.7 C707.8 1035.1 701.4 1039.8 698.0 1041.4 C694.6 1043.0 689.6 1043.5 685.5 1043.5 C681.3 1043.5 676.2 1043.0 672.9 1041.4 C669.6 1039.8 663.5 1035.1 665.6 1033.7 Z" fill="#ece2cc"/>
</g>
<g id="ph3" clip-path="url(#cp3)">
<path d="M955.6 1075.1 L1036.6 1075.1 L1036.6 1134.9 L955.6 1134.9 Z" fill="#cfe2ee"/>
<path d="M901.6 1097.3 L911.8 1092.5 L931.5 1084.8 L957.5 1074.2 L961.0 1102.2 L961.7 1134.9 L901.6 1134.9 Z" fill="#131417"/>
<path d="M1090.6 1073.2 L1081.3 1065.5 L1052.4 1050.1 L1048.1 1064.5 L1032.7 1084.8 L1016.3 1107.9 L1003.8 1134.9 L1090.6 1134.9 Z" fill="#131417"/>
<path d="M982.2 1102.2 L990.3 1107.9 L1005.7 1134.9 L964.3 1134.9 L972.9 1111.8 Z" fill="#4a4090"/>
<path d="M974.9 1115.7 L994.1 1119.5" fill="none" stroke="#9a92d0" stroke-width="1.6" opacity="0.8"/>
<path d="M972.0 1122.4 L998.0 1126.3" fill="none" stroke="#9a92d0" stroke-width="1.6" opacity="0.8"/>
<path d="M967.1 1127.2 L982.2 1102.2 L1000.9 1124.3" fill="none" stroke="#f4f8fb" stroke-width="1.3"/>
<path d="M929 996 L931 950 L945 925 L975 912 L1010 912 L1040 928 L1056 955 L1059 996 Z" fill="#d9a090"/>
<path d="M930.9 990.3 C931.6 983.9 931.9 977.0 933.4 971.0 C934.9 965.0 936.8 958.5 940.1 954.0 C943.5 949.6 947.5 947.0 953.6 944.4 C959.8 941.8 968.1 939.2 976.8 938.2 C985.5 937.2 997.7 937.5 1005.7 938.2 C1013.8 938.9 1019.2 939.9 1025.0 942.5 C1030.9 945.0 1036.6 948.9 1040.8 953.6 C1045.1 958.4 1048.2 964.9 1050.5 971.0 C1052.7 977.1 1053.0 984.5 1054.3 990.3 C1055.6 996.1 1057.7 999.9 1058.2 1005.7 C1058.7 1011.5 1057.9 1019.2 1057.4 1025.0 C1056.9 1030.8 1056.6 1034.6 1055.1 1040.4 C1053.5 1046.2 1051.8 1053.0 1048.1 1059.7 C1044.5 1066.5 1038.9 1075.4 1033.1 1080.9 C1027.3 1086.5 1019.9 1090.3 1013.4 1092.9 C1006.9 1095.5 1000.6 1097.1 994.1 1096.8 C987.7 1096.4 981.3 1094.5 974.9 1091.0 C968.4 1087.4 961.0 1081.3 955.6 1075.5 C950.1 1069.7 945.8 1063.3 942.1 1056.2 C938.4 1049.2 935.6 1040.9 933.4 1033.1 C931.2 1025.3 929.4 1016.7 929.0 1009.6 C928.5 1002.4 930.1 996.7 930.9 990.3 Z" fill="url(#sk3)"/>
<g clip-path="url(#cf3)">
<ellipse cx="1053.9" cy="1036.6" rx="16" ry="50" fill="#8f5545" opacity="0.6" filter="url(#fb4)"/>
<ellipse cx="1003.8" cy="1015.4" rx="12" ry="30" fill="#9a5f50" opacity="0.6" filter="url(#fb4)"/>
<ellipse cx="994.1" cy="1092.5" rx="36" ry="10" fill="#a56e5c" opacity="0.7" filter="url(#fb4)"/>
<ellipse cx="953.6" cy="1025.0" rx="16" ry="14" fill="#f3c2bb" opacity="0.8" filter="url(#fb4)"/>
<ellipse cx="982.6" cy="957.5" rx="28" ry="10" fill="#f0c6b8" opacity="0.7" filter="url(#fb4)"/>
</g>
<path d="M926.1 992.0 C925.0 987.9 925.9 973.1 926.6 965.3 C927.3 957.5 927.8 952.2 930.1 945.2 C932.4 938.2 936.0 928.6 940.2 923.1 C944.4 917.6 949.4 915.0 955.3 912.1 C961.2 909.2 968.7 906.9 975.4 905.5 C982.1 904.1 989.5 903.6 995.4 904.0 C1001.2 904.4 1004.6 905.4 1010.5 908.1 C1016.4 910.8 1024.7 915.6 1030.6 920.1 C1036.5 924.6 1041.3 930.0 1045.7 935.2 C1050.1 940.4 1054.4 946.3 1056.7 951.3 C1059.0 956.3 1059.0 959.6 1059.7 965.3 C1060.4 971.0 1061.1 980.3 1060.8 985.4 C1060.5 990.5 1060.0 996.0 1058.0 996.0 C1056.0 996.0 1051.6 988.8 1048.7 985.4 C1045.8 982.0 1043.7 980.4 1040.7 975.4 C1037.7 970.4 1034.8 961.2 1030.6 955.3 C1026.4 949.4 1022.2 943.6 1015.5 940.2 C1008.8 936.9 997.9 935.7 990.4 935.2 C982.9 934.7 978.0 935.9 970.3 937.2 C962.6 938.5 949.2 938.5 944.2 943.2 C939.2 947.9 941.2 959.1 940.2 965.3 C939.2 971.5 939.4 976.3 938.2 980.4 C937.0 984.5 935.2 988.1 933.2 990.0 C931.2 991.9 927.2 996.1 926.1 992.0 Z" fill="#17181c"/>
<path d="M940.1 947.9 C942.7 944.3 948.8 932.1 955.6 926.6 C962.3 921.2 972.3 917.5 980.6 915.1 C989.0 912.7 1001.5 912.7 1005.7 912.2" fill="none" stroke="#4a4e58" stroke-width="2.2" opacity="0.8" filter="url(#fb1)"/>
<path d="M998.0 924.7 C1002.5 925.4 1017.3 925.4 1025.0 928.6 C1032.7 931.8 1039.5 937.6 1044.3 944.0 C1049.1 950.4 1052.3 963.3 1053.9 967.1" fill="none" stroke="#3c4049" stroke-width="2" opacity="0.8" filter="url(#fb1)"/>
<ellipse cx="1057.4" cy="1013.4" rx="3" ry="9" fill="#6e4034"/>
<path d="M947.9 987.4 C949.8 986.7 954.9 983.4 959.4 983.0 C963.9 982.5 972.3 984.6 974.9 984.9" fill="none" stroke="#33241f" stroke-width="3.8" stroke-linecap="round" filter="url(#fb1)"/>
<path d="M1003.8 984.9 C1006.7 984.5 1015.5 981.9 1021.1 982.6 C1026.8 983.2 1034.8 987.7 1037.5 988.7" fill="none" stroke="#33241f" stroke-width="3.8" stroke-linecap="round" filter="url(#fb1)"/>
<ellipse cx="964.8" cy="1001.5" rx="11" ry="4.4" fill="#9a6353" filter="url(#fb1)"/>
<ellipse cx="964.8" cy="1001.5" rx="7.5" ry="3" fill="#e9d6cf"/>
<ellipse cx="964.8" cy="1001.5" rx="4.2" ry="3.3" fill="#1c1210"/>
<path d="M954.8 1001.5 Q964.8 995.5 974.8 1001.5" fill="none" stroke="#2e1d19" stroke-width="1.6"/>
<ellipse cx="1016.3" cy="998.4" rx="11" ry="4.4" fill="#9a6353" filter="url(#fb1)"/>
<ellipse cx="1016.3" cy="998.4" rx="7.5" ry="3" fill="#e9d6cf"/>
<ellipse cx="1016.3" cy="998.4" rx="4.2" ry="3.3" fill="#1c1210"/>
<path d="M1006.3 998.4 Q1016.3 992.4 1026.3 998.4" fill="none" stroke="#2e1d19" stroke-width="1.6"/>
<path d="M974.4 1034.7 Q979.4 1039.7 985.4 1037.7 Q988.4 1039.7 991.4 1037.7 Q997.4 1039.7 1002.4 1034.7" fill="none" stroke="#7a4638" stroke-width="2.2" stroke-linecap="round" filter="url(#fb1)"/>
<path d="M969.1 1049.7 C969.7 1048.0 978.7 1047.4 982.6 1047.2 C986.4 1046.9 989.0 1048.2 992.2 1048.1 C995.4 1048.1 998.0 1046.5 1001.9 1046.6 C1005.7 1046.7 1014.7 1046.7 1015.4 1048.5 C1016.0 1050.3 1009.6 1055.5 1005.7 1057.4 C1001.9 1059.3 996.7 1059.7 992.2 1059.7 C987.7 1059.7 982.6 1059.1 978.7 1057.4 C974.9 1055.7 968.4 1051.4 969.1 1049.7 Z" fill="#b5706e"/>
<path d="M969.1 1049.7 C971.3 1050.0 978.7 1051.2 982.6 1051.6 C986.4 1052.0 988.7 1052.1 992.2 1052.0 C995.8 1051.9 999.9 1051.8 1003.8 1051.2 C1007.6 1050.7 1013.4 1049.0 1015.4 1048.5" fill="none" stroke="#7d3f42" stroke-width="1.8" filter="url(#fb1)"/>
</g>
<path d="M1323 962 L1326.2 972 L1326.2 991 L1323 991 Z" fill="#fdfdfd"/>
<g id="ph4" clip-path="url(#cp4)">
<rect x="1200" y="920" width="130" height="200" fill="#fdfdfd"/>
<path d="M1203.2 961.7 C1204.1 960.1 1205.7 955.3 1208.6 951.7 C1211.4 948.2 1215.6 944.0 1220.1 940.5 C1224.6 937.1 1230.4 933.3 1235.6 930.9 C1240.7 928.4 1245.9 927.0 1251.0 925.9 C1256.1 924.8 1261.3 924.2 1266.4 924.3 C1271.6 924.5 1276.7 925.1 1281.9 926.6 C1287.0 928.2 1292.5 930.8 1297.3 933.6 C1302.1 936.4 1306.9 940.1 1310.8 943.2 C1314.6 946.3 1318.3 950.1 1320.4 952.1 C1322.5 954.1 1322.8 954.7 1323.3 955.2 L1323.4 1000 L1203.2 1000 Z" fill="url(#hr4)"/>
<path d="M1233.6 1071.3 L1295.4 1067.4 L1289.6 1094.4 L1262.6 1115.7 L1243.3 1102.2 Z" fill="#cfa592"/>
<path d="M1218.2 1091.5 L1227.9 1078.0 L1251.0 1103.1 L1264.5 1114.7 L1218.2 1114.7 Z" fill="#d9e0e6"/>
<path d="M1309.2 1068.4 L1318.5 1074.2 L1323.5 1082.9 L1323.5 1114.7 L1264.5 1114.7 L1287.6 1097.3 Z" fill="#d9e0e6"/>
<path d="M1262.6 1114.7 L1251.0 1103.1 L1254.9 1102.2 L1266.4 1111.8 L1285.7 1097.3 L1289.6 1098.3 L1268.4 1114.7 Z" fill="#bcc5ce" opacity="0.8" filter="url(#fb1)"/>
<path d="M1201.8 1098.3 L1218.2 1090.6 L1218.6 1114.7 L1201.8 1114.7 Z" fill="#2f3658"/>
<path d="M1313.7 1082.9 L1318.9 1074.2 L1324.3 1076.7 L1324.3 1114.7 L1311.8 1114.7 Z" fill="#46508a"/>
<ellipse cx="1206.3" cy="1013.4" rx="5" ry="16" fill="#d9a894"/>
<ellipse cx="1320.8" cy="1013.4" rx="5" ry="16" fill="#d9a894"/>
<path d="M1206.6 994.1 C1207.8 986.4 1209.1 977.4 1211.5 971.0 C1213.9 964.6 1217.1 959.7 1221.1 955.6 C1225.1 951.5 1229.6 948.6 1235.6 946.3 C1241.5 944.1 1249.7 942.5 1256.8 942.1 C1263.9 941.7 1271.3 942.4 1278.0 944.0 C1284.8 945.6 1292.1 947.9 1297.3 951.7 C1302.5 955.6 1306.3 961.4 1309.2 967.1 C1312.2 972.9 1313.3 981.3 1315.0 986.4 C1316.7 991.6 1318.2 993.5 1319.5 998.0 C1320.7 1002.5 1322.3 1007.6 1322.4 1013.4 C1322.5 1019.2 1322.2 1025.9 1320.0 1032.7 C1317.9 1039.5 1313.3 1047.5 1309.2 1054.3 C1305.2 1061.1 1300.9 1068.3 1295.7 1073.6 C1290.6 1078.9 1283.9 1083.4 1278.4 1085.9 C1272.9 1088.5 1267.8 1088.8 1262.6 1089.0 C1257.4 1089.2 1252.9 1089.4 1247.1 1087.1 C1241.4 1084.9 1233.0 1080.7 1227.9 1075.5 C1222.7 1070.4 1219.1 1063.3 1216.3 1056.2 C1213.5 1049.2 1212.8 1039.6 1210.9 1033.1 C1209.0 1026.6 1205.4 1023.8 1204.7 1017.3 C1204.0 1010.8 1205.5 1001.9 1206.6 994.1 Z" fill="url(#sk4)"/>
<g clip-path="url(#cf4)">
<ellipse cx="1213.4" cy="1044.3" rx="11" ry="40" fill="#b98876" opacity="0.5" filter="url(#fb4)"/>
<ellipse cx="1316.6" cy="1044.3" rx="11" ry="40" fill="#b98876" opacity="0.5" filter="url(#fb4)"/>
<ellipse cx="1262.6" cy="1086.7" rx="26" ry="9" fill="#b98876" opacity="0.6" filter="url(#fb4)"/>
<ellipse cx="1259.7" cy="1044.3" rx="22" ry="7" fill="#bda497" opacity="0.7" filter="url(#fb2)"/>
<ellipse cx="1264.5" cy="963.3" rx="26" ry="11" fill="#f8e2da" opacity="0.8" filter="url(#fb4)"/>
<path d="M1206.6 994.1 C1205.2 994.1 1209.1 977.4 1211.5 971.0 C1213.9 964.6 1217.1 959.7 1221.1 955.6 C1225.1 951.5 1229.6 948.6 1235.6 946.3 C1241.5 944.1 1249.7 942.5 1256.8 942.1 C1263.9 941.7 1271.3 942.4 1278.0 944.0 C1284.8 945.6 1292.1 947.9 1297.3 951.7 C1302.5 955.6 1306.3 961.4 1309.2 967.1 C1312.2 972.9 1315.7 987.1 1315.0 986.4 C1314.3 985.8 1309.9 969.1 1305.0 963.3 C1300.1 957.5 1293.8 954.0 1285.7 951.7 C1277.7 949.5 1265.5 949.1 1256.8 949.8 C1248.1 950.4 1239.8 952.0 1233.6 955.6 C1227.5 959.1 1224.6 964.6 1220.1 971.0 C1215.6 977.4 1208.1 994.1 1206.6 994.1 Z" fill="#8a644c" opacity="0.55" filter="url(#fb2)"/>
</g>
<path d="M1218.2 990.3 C1220.5 989.6 1226.6 986.7 1231.7 986.4 C1236.9 986.2 1246.2 988.4 1249.1 988.7" fill="none" stroke="#6a4a3c" stroke-width="2.6" stroke-linecap="round" filter="url(#fb1)"/>
<path d="M1272.2 988.4 C1275.1 987.9 1284.1 985.3 1289.6 985.5 C1295.0 985.6 1302.4 988.7 1305.0 989.3" fill="none" stroke="#6a4a3c" stroke-width="2.6" stroke-linecap="round" filter="url(#fb1)"/>
<ellipse cx="1234.6" cy="1004.2" rx="8" ry="2.6" fill="#b58c7c" filter="url(#fb1)"/>
<ellipse cx="1234.6" cy="1004.2" rx="5.5" ry="1.7" fill="#30211c"/>
<ellipse cx="1288.0" cy="1003.0" rx="8" ry="2.6" fill="#b58c7c" filter="url(#fb1)"/>
<ellipse cx="1288.0" cy="1003.0" rx="5.5" ry="1.7" fill="#30211c"/>
<rect x="1210.1" y="994.3" width="44.5" height="24" rx="5" ry="7" fill="#fff" fill-opacity="0.12" stroke="#2e2828" stroke-width="1.9"/>
<rect x="1266.4" y="993.4" width="46" height="24" rx="5" ry="7" fill="#fff" fill-opacity="0.12" stroke="#2e2828" stroke-width="1.9"/>
<path d="M1254.5 1001.9 C1255.5 1001.4 1258.6 999.2 1260.6 999.2 C1262.7 999.1 1265.8 1001.1 1266.8 1001.5" fill="none" stroke="#2e2828" stroke-width="2"/>
<path d="M1204.3 995.1 L1210.9 996.5" fill="none" stroke="#3a3232" stroke-width="2.6"/>
<path d="M1312.3 995.7 L1322.7 994.1" fill="none" stroke="#3a3232" stroke-width="2.6"/>
<path d="M1244.1 1032.7 Q1249.1 1038.7 1256.1 1037.7 Q1259.1 1039.7 1262.1 1037.7 Q1269.1 1038.7 1274.1 1032.7" fill="none" stroke="#a87866" stroke-width="2" stroke-linecap="round" filter="url(#fb1)"/>
<path d="M1241.0 1048.5 C1241.6 1047.1 1249.8 1046.8 1252.9 1046.6 C1256.0 1046.4 1257.4 1047.4 1259.7 1047.4 C1261.9 1047.4 1263.2 1046.4 1266.4 1046.6 C1269.6 1046.8 1278.3 1047.1 1279.0 1048.5 C1279.6 1050.0 1273.5 1054.1 1270.3 1055.5 C1267.1 1056.9 1263.2 1057.0 1259.7 1057.0 C1256.1 1057.0 1252.2 1056.9 1249.1 1055.5 C1246.0 1054.1 1240.3 1050.0 1241.0 1048.5 Z" fill="#c48e84"/>
<path d="M1241.0 1048.5 C1243.0 1048.8 1249.8 1049.8 1252.9 1050.1 C1256.0 1050.4 1257.4 1050.3 1259.7 1050.3 C1261.9 1050.3 1263.2 1050.4 1266.4 1050.1 C1269.6 1049.8 1276.9 1048.8 1279.0 1048.5" fill="none" stroke="#8d5a52" stroke-width="1.5" filter="url(#fb1)"/>
</g>
</svg>
<div class="t" id="leg1">· 기타 다른 인물 <span class="q">2.8%</span></div>
<div class="t" id="leg2">· 적합후보 없음 <span class="q">3.4%</span></div>
<div class="t" id="leg3">· 잘 모름 : <span class="q">5.6%</span></div>
<div class="t" id="n1">유성엽</div>
<div class="t" id="n2">윤준병,</div>
<div class="t" id="n3">장기철</div>
<div class="t" id="n4">유재석</div>
<div class="t" id="v1">37.0</div>
<div class="t" id="v2">33.9</div>
<div class="t" id="v3">14.0</div>
<div class="t" id="v4">3.3</div>
<div class="t" id="p1">%</div>
<div class="t" id="p2">%</div>
<div class="t" id="p3">%</div>
<div class="t" id="p4">%</div>
</div>
</body>
</html>
